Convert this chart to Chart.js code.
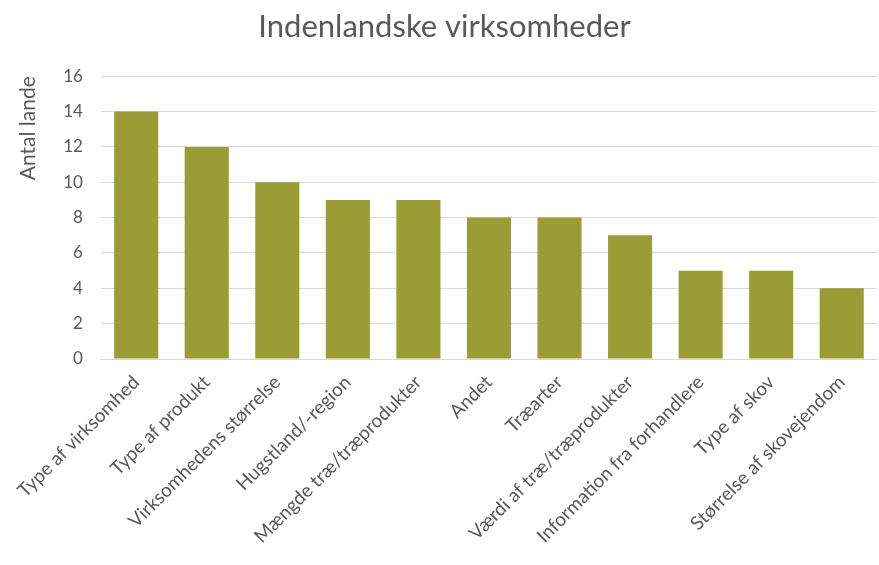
<!DOCTYPE html>
<html lang="da">
<head>
    <meta charset="UTF-8">
    <title>Indenlandske virksomheder</title>
    <script src="https://cdn.jsdelivr.net/npm/chart.js"></script>
    <style>
        html, body { margin: 0; padding: 0; background: #fff; }
    </style>
</head>
<body>
    <canvas id="chart" width="879" height="565"></canvas>

    <script>
        // Data
        const categories = [
            'Type af virksomhed',
            'Type af produkt',
            'Virksomhedens størrelse',
            'Hugstland/-region',
            'Mængde træ/træprodukter',
            'Andet',
            'Træarter',
            'Værdi af træ/træprodukter',
            'Information fra forhandlere',
            'Type af skov',
            'Størrelse af skovejendom'
        ];
        const antalLande = [14, 12, 10, 9, 9, 8, 8, 7, 5, 5, 4];
        const yTicks = [0, 2, 4, 6, 8, 10, 12, 14, 16];

        const textColor = '#595959';
        const fontFamily = 'Lato, "Open Sans", sans-serif';

        new Chart(document.getElementById('chart').getContext('2d'), {
            type: 'bar',
            data: {
                labels: categories,
                datasets: [{
                    label: 'Antal lande',
                    data: antalLande,
                    backgroundColor: '#9a9d36',
                    categoryPercentage: 1,
                    barPercentage: 0.625
                }]
            },
            options: {
                responsive: false,
                animation: false,
                layout: { padding: { left: 12, right: 2, top: 8, bottom: 0 } },
                plugins: {
                    legend: { display: false },
                    tooltip: { enabled: false },
                    title: {
                        display: true,
                        text: 'Indenlandske virksomheder',
                        color: textColor,
                        font: { family: fontFamily, size: 31, weight: 'normal' },
                        padding: { top: 0, bottom: 31 }
                    }
                },
                scales: {
                    x: {
                        grid: { display: false },
                        border: { color: '#d9d9d9' },
                        // keep the label band the same height as in the reference
                        afterFit: axis => { axis.height = 206; },
                        ticks: {
                            color: textColor,
                            font: { family: fontFamily, size: 19 },
                            maxRotation: 45,
                            minRotation: 45,
                            autoSkip: false,
                            padding: 4
                        }
                    },
                    y: {
                        min: 0,
                        max: 16,
                        afterBuildTicks: axis => {
                            axis.ticks = yTicks.map(v => ({ value: v }));
                        },
                        grid: { color: '#d9d9d9', drawTicks: false },
                        border: { display: false },
                        ticks: {
                            color: textColor,
                            font: { family: fontFamily, size: 17 },
                            padding: 18
                        },
                        title: {
                            display: true,
                            text: 'Antal lande',
                            align: 'end',
                            color: textColor,
                            font: { family: fontFamily, size: 21 },
                            padding: { bottom: 4 }
                        }
                    }
                }
            }
        });
    </script>
</body>
</html>
